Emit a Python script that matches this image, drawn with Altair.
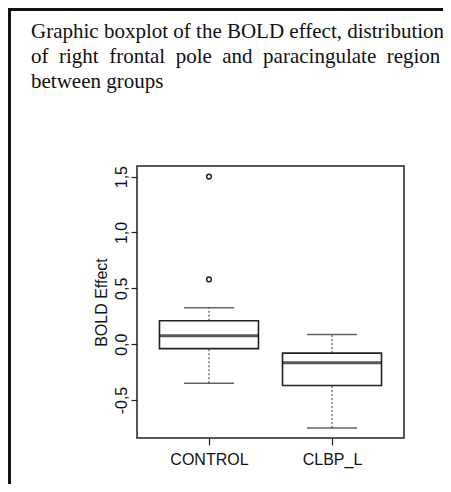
import altair as alt
import pandas as pd

groups = ["CONTROL", "CLBP_L"]
whisker_low = [-0.35, -0.75]
q1 = [-0.04, -0.37]
median = [0.075, -0.167]
q3 = [0.21, -0.08]
whisker_high = [0.327, 0.087]
outlier_group = ["CONTROL", "CONTROL"]
outlier_value = [0.58, 1.50]

y_ticks = [-0.5, 0.0, 0.5, 1.0, 1.5]
y_tick_labels = ["-0,5", "0,0", "0,5", "1,0", "1,5"]

title_lines = [
    "Graphic boxplot of the BOLD effect, distribution",
    "of\u00a0\u00a0right\u00a0\u00a0frontal\u00a0\u00a0pole\u00a0\u00a0and\u00a0\u00a0paracingulate\u00a0\u00a0region",
    "between groups",
]

box = pd.DataFrame({"group": groups, "lo": whisker_low, "q1": q1, "med": median,
                    "q3": q3, "hi": whisker_high})
out = pd.DataFrame({"group": outlier_group, "value": outlier_value})
one = pd.DataFrame({"k": [0]})

label_expr = " : ".join(
    f"datum.value == {v} ? '{l}'" for v, l in zip(y_ticks, y_tick_labels)) + " : ''"

xenc = alt.X("group:N", sort=groups, title=None,
             scale=alt.Scale(type="point", padding=0.585, domain=groups),
             axis=alt.Axis(labelAngle=0, domain=False, ticks=True, tickSize=7,
                           tickColor="#222", tickWidth=1.2, labelPadding=6,
                           labelFontSize=16, labelFont="Liberation Sans",
                           labelColor="#111", grid=False))
yscale = alt.Scale(domain=[-0.84, 1.595], nice=False, zero=False)
yaxis = alt.Axis(values=y_ticks, labelExpr=label_expr, title="BOLD Effect",
                 titleFont="Liberation Sans", titleFontSize=16, titleFontWeight="normal",
                 titleColor="#111", titlePadding=4,
                 labelAngle=270, labelAlign="center", labelBaseline="bottom",
                 labelFontSize=16, labelFont="Liberation Sans", labelColor="#111",
                 labelPadding=2, tickSize=6, tickColor="#222", tickWidth=1.2,
                 domain=False, grid=False)

base = alt.Chart(box)

upper = base.mark_rule(color="#333", strokeWidth=1, strokeDash=[2, 2]).encode(
    x=xenc, y=alt.Y("q3:Q", scale=yscale, axis=yaxis), y2="hi:Q")
lower = base.mark_rule(color="#333", strokeWidth=1, strokeDash=[2, 2]).encode(
    x=xenc, y=alt.Y("lo:Q", scale=yscale, axis=yaxis), y2="q1:Q")
cap_hi = base.mark_tick(color="#222", size=50, thickness=1.5).encode(
    x=xenc, y=alt.Y("hi:Q", scale=yscale, axis=yaxis))
cap_lo = base.mark_tick(color="#222", size=50, thickness=1.5).encode(
    x=xenc, y=alt.Y("lo:Q", scale=yscale, axis=yaxis))
rect = base.mark_bar(size=99, fill="white", stroke="#222", strokeWidth=1.6).encode(
    x=xenc, y=alt.Y("q1:Q", scale=yscale, axis=yaxis), y2="q3:Q")
med = base.mark_tick(color="#111", size=99, thickness=3).encode(
    x=xenc, y=alt.Y("med:Q", scale=yscale, axis=yaxis))
pts = alt.Chart(out).mark_point(shape="circle", size=22, filled=False,
                                color="#222", strokeWidth=1.5, opacity=1).encode(
    x=xenc, y=alt.Y("value:Q", scale=yscale, axis=yaxis))

frame_left = alt.Chart(one).mark_rule(color="#111", strokeWidth=3).encode(
    x=alt.value(-127.5), y=alt.value(-158), y2=alt.value(318))
frame_top = alt.Chart(one).mark_rule(color="#111", strokeWidth=3).encode(
    x=alt.value(-129), x2=alt.value(306), y=alt.value(-156.5))
title = alt.Chart(one).mark_text(align="left", baseline="alphabetic", font="Liberation Serif",
                                 fontSize=21, lineHeight=25, color="#111").encode(
    x=alt.value(-106), y=alt.value(-128), text=alt.value(title_lines))

chart = alt.layer(upper, lower, cap_hi, cap_lo, rect, med, pts,
                  frame_left, frame_top, title).properties(
    width=267, height=272,
    autosize=alt.AutoSizeParams(type="none"),
    padding={"left": 129, "top": 158, "right": 39, "bottom": 46},
).configure(background="white").configure_view(stroke="#222", strokeWidth=1.5)

chart.save("out.html", embed_options={"renderer": "svg", "actions": False})
